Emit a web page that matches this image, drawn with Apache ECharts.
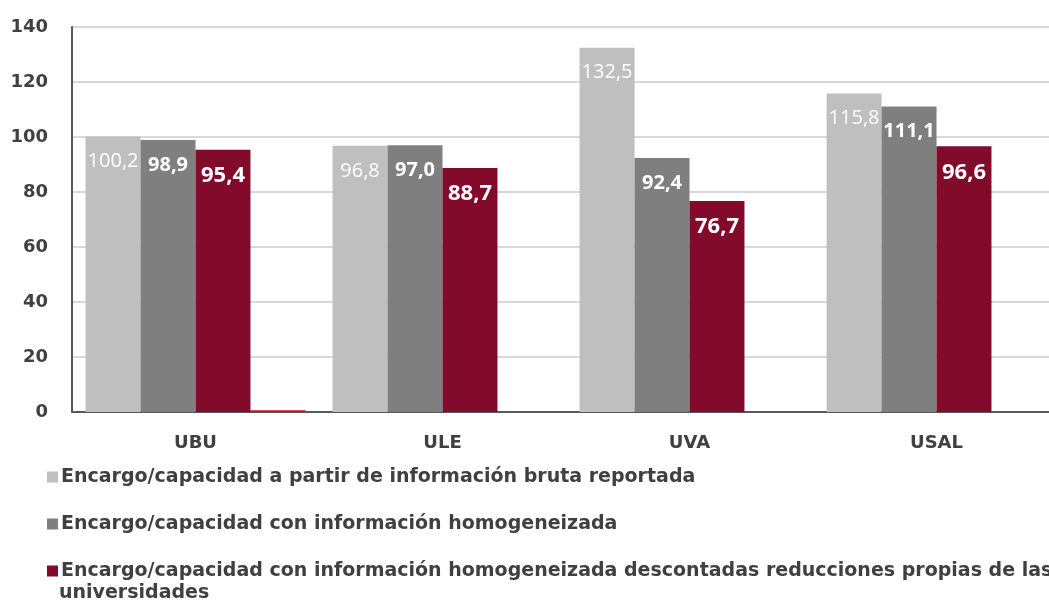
<!DOCTYPE html>
<html>
<head>
<meta charset="utf-8">
<script src="https://cdn.jsdelivr.net/npm/echarts@6/dist/echarts.min.js"></script>
<style>
  html, body { margin: 0; padding: 0; background: #fff; }
  #chart { width: 1049px; height: 603px; }
</style>
</head>
<body>
<div id="chart"></div>
<script>
const categories = ['UBU', 'ULE', 'UVA', 'USAL'];
const seriesNames = [
  'Encargo/capacidad a partir de información bruta reportada',
  'Encargo/capacidad con información homogeneizada',
  'Encargo/capacidad con información homogeneizada descontadas reducciones propias de las universidades'
];
const bruta = [100.2, 96.8, 132.5, 115.8];
const homogeneizada = [98.9, 97.0, 92.4, 111.1];
const descontadas = [95.4, 88.7, 76.7, 96.6];
// stray small bar next to UBU in the original
const extra = [0.6, null, null, null];
const yTicks = [0, 20, 40, 60, 80, 100, 120, 140];

const chart = echarts.init(document.getElementById('chart'));

const fmt = p => p.value.toFixed(1).replace('.', ',');
const labelFont = '"Open Sans", "DejaVu Sans", sans-serif';
const wrapWord = ' universidades';

function barSeries(name, data, color, fontSize, weight) {
  return {
    name: name,
    type: 'bar',
    data: data,
    barGap: '0%',
    barCategoryGap: '11%',
    itemStyle: { color: color },
    label: {
      show: true,
      position: 'insideTop',
      distance: 15,
      color: '#fff',
      fontFamily: labelFont,
      fontSize: fontSize,
      fontWeight: weight,
      formatter: fmt
    }
  };
}

const option = {
  animation: false,
  textStyle: { fontFamily: '"DejaVu Sans", sans-serif' },
  grid: { left: 72, top: 27, width: 988, height: 385, outerBoundsMode: 'none', containLabel: false },
  xAxis: {
    type: 'category',
    data: categories,
    axisLine: { lineStyle: { color: '#595959', width: 2 } },
    axisTick: { show: false },
    axisLabel: { color: '#404040', fontWeight: 'bold', fontSize: 18, margin: 22 }
  },
  yAxis: {
    type: 'value',
    min: 0,
    max: 140,
    interval: 20,
    axisLine: { show: true, lineStyle: { color: '#595959', width: 2 } },
    axisTick: { show: false },
    axisLabel: {
      color: '#404040', fontWeight: 'bold', fontSize: 18, margin: 24,
      formatter: v => yTicks.includes(v) ? String(v) : ''
    },
    splitLine: { lineStyle: { color: '#d9d9d9', width: 2 } }
  },
  legend: {
    data: seriesNames,
    orient: 'vertical',
    left: 42,
    top: 462,
    itemGap: 27,
    itemWidth: 11,
    itemHeight: 11,
    icon: 'rect',
    formatter: name => name.endsWith(wrapWord) ? name.slice(0, -wrapWord.length) : name,
    textStyle: {
      color: '#404040', fontWeight: 'bold', fontSize: 19, lineHeight: 20, padding: [0, 0, 0, -2]
    }
  },
  graphic: [{
    type: 'text',
    left: 59,
    top: 584,
    style: {
      text: wrapWord.trim(),
      fill: '#404040',
      font: 'bold 19px "DejaVu Sans", sans-serif'
    }
  }],
  series: [
    barSeries(seriesNames[0], bruta, '#bfbfbf', 20, 'normal'),
    barSeries(seriesNames[1], homogeneizada, '#7f7f7f', 20, 'bold'),
    barSeries(seriesNames[2], descontadas, '#820a2b', 22, 'bold'),
    {
      name: 'extra',
      type: 'bar',
      data: extra,
      barGap: '0%',
      barCategoryGap: '11%',
      itemStyle: { color: '#c8102e' },
      label: { show: false }
    }
  ]
};

chart.setOption(option);
</script>
</body>
</html>
